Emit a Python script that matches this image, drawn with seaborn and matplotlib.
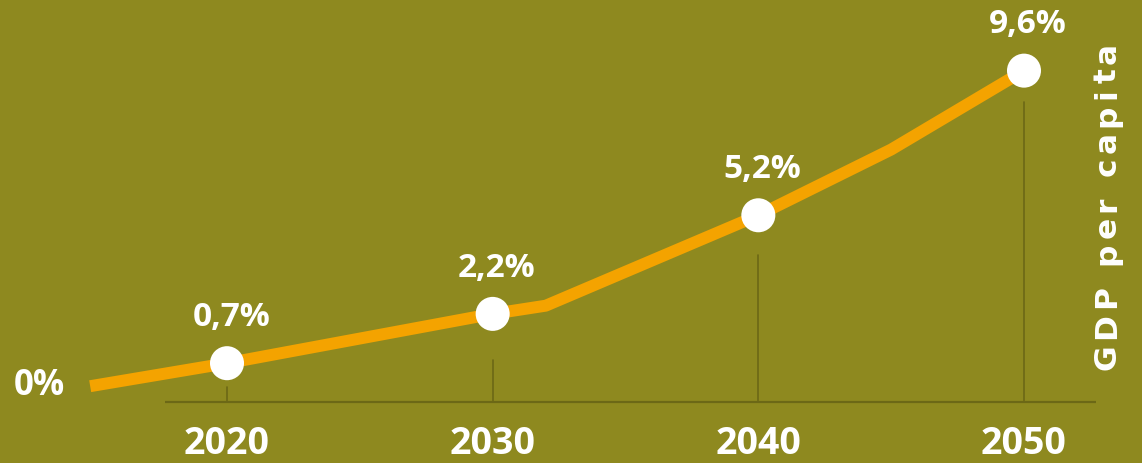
import matplotlib
matplotlib.use("Agg")
import matplotlib.pyplot as plt
import seaborn as sns
import pandas as pd
import numpy as np

# ---- data ----
line_years = [2014.85, 2020, 2030, 2032, 2040, 2045, 2050]
line_values = [0.0, 0.7, 2.2, 2.45, 5.2, 7.2, 9.6]
point_years = [2020, 2030, 2040, 2050]
point_values = [0.7, 2.2, 5.2, 9.6]
point_labels = ["0,7%", "2,2%", "5,2%", "9,6%"]
start_label = "0%"
axis_title = "GDP per capita"

BG = "#8E891F"
ORANGE = "#F4A300"
DARK = "#6C6816"
WHITE = "#FFFFFF"

sns.set_theme(style="white")
FONT = ["Open Sans", "DejaVu Sans"]
plt.rcParams["font.family"] = FONT
TITLE_FONT = ["DejaVu Sans"]

W, H = 1142, 463
fig = plt.figure(figsize=(W / 100, H / 100), dpi=100, facecolor=BG)
ax = fig.add_axes([0, 0, 1, 1])
ax.set_facecolor(BG)

px_per_year = (1024 - 227) / 30.0
ax.set_xlim(2020 - 227 / px_per_year, 2050 + (W - 1024) / px_per_year)
px_per_unit = 32.87
zero_px = 386.2
ax.set_ylim((zero_px - H) / px_per_unit, zero_px / px_per_unit)

base_v = (zero_px - 402) / px_per_unit

# baseline
ax.plot([2020 - 62 / px_per_year, 2050 + 72 / px_per_year], [base_v, base_v],
        color=DARK, lw=1.6, zorder=1, solid_capstyle="butt")
# drop lines with a gap below each marker
gaps_px = [24, 46, 40, 31]
for yr, v, g in zip(point_years, point_values, gaps_px):
    ax.plot([yr, yr], [base_v, v - g / px_per_unit], color=DARK, lw=1.2, zorder=1)

df_line = pd.DataFrame({"year": line_years, "value": line_values})
sns.lineplot(data=df_line, x="year", y="value", ax=ax, color=ORANGE, lw=8.6,
             zorder=2, sort=False)
for l in ax.lines[-1:]:
    l.set_solid_capstyle("butt")
    l.set_solid_joinstyle("round")

df_pts = pd.DataFrame({"year": point_years, "value": point_values})
sns.scatterplot(data=df_pts, x="year", y="value", ax=ax, color=WHITE, s=600,
                edgecolor="none", zorder=3)

for yr, v, lab in zip(point_years, point_values, point_labels):
    ax.annotate(lab, (yr, v), xytext=(3, 33), textcoords="offset points",
                ha="center", va="center", color=WHITE, fontsize=24,
                fontweight="bold")

fig.text(39 / W, 1 - 386 / H, start_label, ha="center", va="center",
         color=WHITE, fontsize=25, fontweight="bold")

for yr in point_years:
    ax.annotate(str(yr), (yr, base_v), xytext=(0, -30), textcoords="offset points",
                ha="center", va="center", color=WHITE, fontsize=27,
                fontweight="bold")

# rotated title with letter spacing, drawn character by character
renderer = fig.canvas.get_renderer()
title_size = 22.5
target_len = 327
widths = []
for ch in axis_title:
    t = fig.text(0, 0, ch if ch != " " else "n", fontsize=title_size,
                 fontweight="bold", family=TITLE_FONT)
    w = t.get_window_extent(renderer).width
    if ch == " ":
        w *= 0.45
    widths.append(w)
    t.remove()
spacing_px = max(0.0, (target_len - sum(widths)) / (len(axis_title) - 1))
total = sum(widths) + spacing_px * (len(axis_title) - 1)
center_y = H - 206
x_px = 1104
cur = center_y - total / 2
for ch, w in zip(axis_title, widths):
    if ch != " ":
        fig.text(x_px / W, (cur + w / 2) / H, ch, rotation=90, ha="center",
                 va="center_baseline", color=WHITE, fontsize=title_size,
                 fontweight="bold", rotation_mode="anchor", family=TITLE_FONT)
    cur += w + spacing_px

ax.set_xlabel("")
ax.set_ylabel("")
ax.set_xticks([])
ax.set_yticks([])
for s in ax.spines.values():
    s.set_visible(False)

fig.savefig("out.png", dpi=100, facecolor=BG)
